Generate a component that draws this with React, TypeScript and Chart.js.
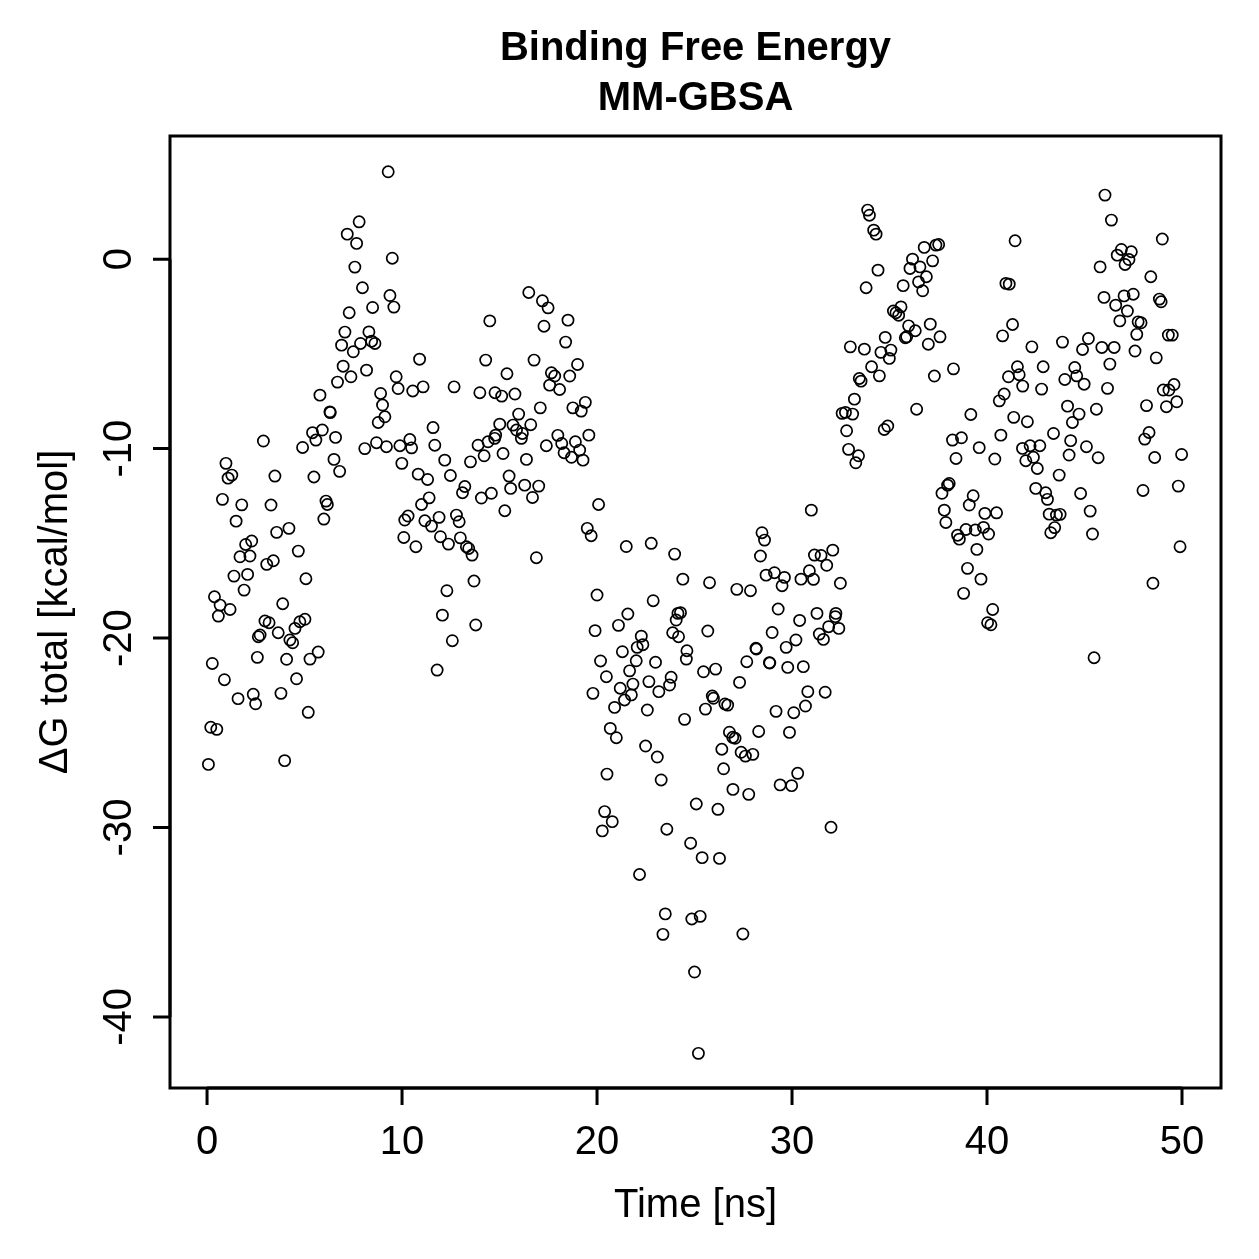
import React, { useEffect, useRef } from "react";
import { Chart, registerables } from "chart.js";

Chart.register(...registerables);

// Simulation time of each frame (ns)
const timeNs: number[] = [
  0.07, 0.19, 0.27, 0.38, 0.5, 0.58, 0.67, 0.79, 0.89, 0.97,
  1.08, 1.18, 1.27, 1.38, 1.49, 1.59, 1.69, 1.78, 1.9, 1.98,
  2.08, 2.2, 2.29, 2.37, 2.49, 2.58, 2.63, 2.72, 2.89, 2.97,
  3.06, 3.18, 3.28, 3.4, 3.48, 3.57, 3.65, 3.79, 3.88, 3.98,
  4.08, 4.2, 4.25, 4.39, 4.51, 4.59, 4.68, 4.76, 4.9, 5.02,
  5.07, 5.19, 5.28, 5.41, 5.48, 5.58, 5.7, 5.79, 5.91, 5.99,
  6.1, 6.17, 6.3, 6.32, 6.51, 6.59, 6.69, 6.8, 6.9, 6.98,
  7.07, 7.19, 7.29, 7.38, 7.5, 7.58, 7.67, 7.8, 7.87, 7.97,
  8.09, 8.18, 8.3, 8.44, 8.49, 8.61, 8.69, 8.78, 8.9, 9.0,
  9.12, 9.2, 9.29, 9.38, 9.5, 9.58, 9.7, 9.8, 9.89, 9.99,
  10.09, 10.14, 10.31, 10.4, 10.49, 10.55, 10.71, 10.83, 10.9, 11.0,
  11.08, 11.17, 11.31, 11.39, 11.51, 11.59, 11.68, 11.8, 11.9, 11.97,
  12.07, 12.19, 12.3, 12.38, 12.48, 12.58, 12.67, 12.79, 12.93, 12.99,
  13.1, 13.22, 13.3, 13.42, 13.51, 13.59, 13.69, 13.78, 13.9, 13.99,
  14.07, 14.21, 14.29, 14.41, 14.5, 14.58, 14.75, 14.77, 14.8, 15.01,
  15.11, 15.18, 15.27, 15.38, 15.49, 15.57, 15.69, 15.79, 15.87, 15.98,
  16.12, 16.17, 16.29, 16.38, 16.5, 16.6, 16.69, 16.77, 16.89, 17.01,
  17.09, 17.2, 17.28, 17.4, 17.49, 17.57, 17.66, 17.83, 17.99, 18.08,
  18.19, 18.31, 18.39, 18.51, 18.6, 18.69, 18.76, 18.89, 19.0, 19.11,
  19.19, 19.28, 19.4, 19.5, 19.58, 19.7, 19.79, 19.9, 20.0, 20.08,
  20.18, 20.27, 20.39, 20.48, 20.51, 20.68, 20.78, 20.9, 20.99, 21.1,
  21.19, 21.3, 21.41, 21.5, 21.58, 21.67, 21.76, 21.84, 22.01, 22.06,
  22.18, 22.27, 22.35, 22.49, 22.58, 22.66, 22.78, 22.88, 23.0, 23.09,
  23.17, 23.29, 23.38, 23.5, 23.58, 23.72, 23.8, 23.88, 23.98, 24.06,
  24.15, 24.18, 24.28, 24.4, 24.49, 24.58, 24.61, 24.8, 24.86, 25.0,
  25.09, 25.2, 25.29, 25.39, 25.46, 25.56, 25.68, 25.77, 25.91, 25.97,
  26.08, 26.2, 26.28, 26.4, 26.49, 26.56, 26.7, 26.79, 26.96, 26.97,
  27.08, 27.17, 27.31, 27.39, 27.48, 27.61, 27.68, 27.78, 27.87, 27.99,
  28.15, 28.17, 28.29, 28.38, 28.46, 28.59, 28.67, 28.84, 28.86, 28.98,
  29.1, 29.18, 29.29, 29.39, 29.49, 29.61, 29.7, 29.78, 29.87, 29.98,
  30.09, 30.2, 30.29, 30.39, 30.46, 30.58, 30.69, 30.81, 30.89, 30.99,
  31.1, 31.15, 31.28, 31.4, 31.49, 31.61, 31.7, 31.78, 31.88, 32.0,
  32.09, 32.22, 32.25, 32.4, 32.48, 32.57, 32.74, 32.8, 32.9, 32.99,
  33.11, 33.2, 33.27, 33.41, 33.45, 33.54, 33.71, 33.8, 33.88, 33.97,
  34.08, 34.19, 34.31, 34.41, 34.48, 34.56, 34.73, 34.78, 34.91, 34.99,
  35.07, 35.2, 35.33, 35.47, 35.59, 35.7, 35.81, 35.88, 35.98, 36.05,
  36.18, 36.32, 36.39, 36.49, 36.56, 36.7, 36.78, 36.89, 36.99, 37.09,
  37.21, 37.3, 37.38, 37.52, 37.59, 37.69, 37.81, 37.89, 37.98, 38.06,
  38.23, 38.28, 38.41, 38.49, 38.58, 38.69, 38.8, 38.92, 39.0, 39.09,
  39.17, 39.29, 39.4, 39.48, 39.6, 39.69, 39.82, 39.89, 40.03, 40.08,
  40.2, 40.29, 40.4, 40.49, 40.63, 40.71, 40.8, 40.88, 40.97, 41.1,
  41.14, 41.31, 41.37, 41.44, 41.56, 41.65, 41.82, 41.83, 41.99, 42.07,
  42.21, 42.3, 42.38, 42.5, 42.58, 42.71, 42.8, 42.88, 43.01, 43.1,
  43.19, 43.27, 43.41, 43.47, 43.56, 43.7, 43.75, 43.87, 43.99, 44.13,
  44.21, 44.29, 44.38, 44.5, 44.6, 44.72, 44.8, 44.9, 44.98, 45.1,
  45.2, 45.29, 45.41, 45.49, 45.61, 45.7, 45.8, 45.89, 46.0, 46.05,
  46.18, 46.3, 46.38, 46.52, 46.6, 46.68, 46.81, 46.89, 47.03, 47.08,
  47.2, 47.28, 47.4, 47.5, 47.59, 47.68, 47.75, 47.9, 48.0, 48.09,
  48.18, 48.31, 48.4, 48.51, 48.6, 48.68, 48.84, 48.93, 48.99, 49.04,
  49.2, 49.3, 49.33, 49.5, 49.59, 49.73, 49.81, 49.9, 49.98,
];

// Total binding free energy of each frame (kcal/mol)
const deltaGTotal: number[] = [
  -26.67, -24.71, -21.34, -17.82, -24.82, -18.84, -18.26, -12.68, -22.2, -10.78,
  -11.56, -18.49, -11.4, -16.73, -13.83, -23.2, -15.71, -12.97, -17.47, -15.06,
  -16.64, -15.67, -14.88, -22.97, -23.47, -21.02, -19.93, -19.84, -9.6, -19.1,
  -16.11, -19.19, -12.98, -15.92, -11.45, -14.42, -19.72, -22.92, -18.19, -26.47,
  -21.12, -14.21, -20.1, -20.25, -19.49, -22.15, -15.41, -19.14, -9.94, -19.01,
  -16.87, -23.92, -21.11, -9.16, -11.5, -9.55, -20.74, -7.18, -9.02, -13.72,
  -12.77, -12.95, -8.06, -8.1, -10.57, -9.41, -6.49, -11.2, -4.54, -5.65,
  -3.85, 1.32, -2.83, -6.21, -4.89, -0.42, 0.83, 1.97, -4.45, -1.51,
  -10.0, -5.86, -3.84, -4.33, -2.55, -4.45, -9.69, -8.62, -7.09, -7.7,
  -8.32, -9.9, 4.61, -1.92, 0.05, -2.53, -6.21, -6.83, -9.85, -10.78,
  -14.69, -13.77, -13.56, -9.52, -9.96, -6.96, -15.18, -11.35, -5.28, -12.95,
  -6.74, -13.81, -11.63, -12.6, -14.09, -8.89, -9.82, -21.69, -13.63, -14.65,
  -18.79, -10.61, -17.5, -15.04, -11.42, -20.14, -6.74, -13.51, -13.86, -14.71,
  -12.33, -12.0, -15.18, -15.27, -10.7, -15.62, -16.99, -19.31, -9.82, -7.05,
  -12.61, -10.38, -5.33, -9.64, -3.26, -12.36, -9.46, -7.05, -9.29, -8.71,
  -7.23, -10.26, -13.28, -6.05, -11.45, -12.1, -8.76, -7.12, -9.02, -8.18,
  -9.46, -9.2, -11.93, -10.57, -1.76, -8.74, -12.58, -5.33, -15.76, -11.98,
  -7.85, -2.2, -3.54, -9.85, -2.57, -6.65, -6.0, -6.17, -9.3, -6.88,
  -9.73, -10.22, -4.38, -3.22, -6.17, -10.46, -7.85, -9.64, -5.56, -10.08,
  -8.02, -10.61, -7.56, -14.21, -9.29, -14.6, -22.92, -19.61, -17.73, -12.95,
  -21.21, -30.18, -29.16, -22.04, -27.18, -24.77, -29.69, -23.66, -25.26, -19.33,
  -22.65, -20.72, -23.27, -15.17, -18.73, -21.73, -23.0, -22.43, -21.2, -20.49,
  -32.48, -19.9, -20.35, -25.7, -23.8, -22.3, -15.0, -18.03, -21.28, -26.28,
  -22.83, -27.49, -35.64, -34.56, -30.09, -22.48, -22.07, -19.72, -15.57, -19.05,
  -18.7, -19.93, -18.66, -16.89, -24.29, -21.11, -20.67, -30.83, -34.83, -37.63,
  -28.76, -41.92, -34.69, -31.59, -21.78, -23.75, -19.63, -17.08, -23.06, -23.18,
  -21.64, -29.04, -31.63, -25.87, -26.9, -23.48, -23.54, -24.97, -25.24, -27.99,
  -25.29, -17.43, -22.34, -26.03, -35.62, -26.23, -21.25, -28.25, -17.5, -26.14,
  -20.54, -20.58, -24.93, -15.67, -14.44, -14.83, -16.68, -21.3, -21.32, -19.71,
  -16.55, -23.87, -18.47, -27.75, -17.24, -16.8, -20.49, -21.55, -24.98, -27.79,
  -23.94, -20.1, -27.14, -19.07, -16.89, -21.51, -23.59, -22.83, -16.45, -13.25,
  -16.9, -15.62, -18.7, -19.79, -15.64, -20.07, -22.86, -16.16, -19.4, -29.99,
  -15.36, -18.87, -18.7, -19.49, -17.11, -8.14, -8.09, -9.06, -10.04, -4.63,
  -8.18, -7.39, -10.75, -10.38, -6.3, -6.44, -4.75, -1.51, 2.59, 2.32,
  -5.68, 1.53, 1.32, -0.58, -6.16, -4.92, -8.99, -4.13, -8.81, -5.24,
  -4.8, -2.74, -2.83, -2.96, -2.52, -1.4, -4.15, -4.1, -3.52, -0.49,
  0.0, -3.78, -7.92, -1.2, -0.41, -1.67, 0.62, -0.93, -4.49, -3.43,
  -0.09, -6.17, 0.74, 0.77, -4.1, -12.36, -13.25, -13.9, -11.93, -11.84,
  -9.55, -5.79, -10.52, -14.57, -14.78, -9.43, -17.64, -14.27, -16.32, -12.98,
  -8.2, -12.49, -14.3, -15.32, -9.95, -16.89, -14.16, -13.42, -19.19, -14.51,
  -19.3, -18.49, -10.55, -13.39, -7.48, -9.29, -4.05, -7.12, -1.28, -6.21,
  -1.32, -3.45, -8.35, 0.97, -5.68, -6.1, -9.99, -6.7, -10.64, -8.58,
  -9.85, -4.63, -10.46, -12.1, -11.05, -9.85, -6.86, -5.68, -12.33, -12.68,
  -13.46, -14.44, -9.2, -14.17, -13.51, -11.4, -13.47, -4.38, -6.35, -7.76,
  -10.34, -9.58, -8.62, -5.72, -6.16, -8.18, -12.37, -4.77, -6.6, -9.9,
  -4.19, -13.3, -14.51, -21.04, -7.92, -10.48, -0.41, -4.66, -2.02, 3.38,
  -6.82, -5.54, 2.06, -4.66, -2.43, 0.21, -3.26, 0.51, -1.94, -0.28,
  -2.74, -0.02, 0.39, -1.85, -4.85, -3.97, -3.31, -3.36, -12.21, -9.5,
  -7.73, -9.15, -0.93, -17.11, -10.47, -5.21, -2.11, -2.25, 1.06, -6.91,
  -7.79, -4.01, -6.91, -4.01, -6.62, -7.53, -11.98, -15.18, -10.31,
];

const xTicks: number[] = [0, 10, 20, 30, 40, 50];
const yTicks: number[] = [0, -10, -20, -30, -40];

const titleLines: string[] = ["Binding Free Energy", "MM-GBSA"];
const xTitle = "Time [ns]";
const yTitle = "\u0394G total [kcal/mol]";

const FONT = '"Liberation Sans", Arial, Helvetica, sans-serif';
const SIZE = 1259;

// Box, axes, tick labels and titles drawn in base-graphics style
const framePlugin = {
  id: "frame",
  afterDraw(chart: any) {
    const { ctx, chartArea: a, scales } = chart;
    const xs = scales.x;
    const ys = scales.y;
    const tick = 17;
    ctx.save();
    ctx.strokeStyle = "#000";
    ctx.fillStyle = "#000";
    ctx.lineWidth = 3;
    ctx.lineCap = "butt";
    ctx.lineJoin = "miter";
    ctx.strokeRect(a.left, a.top, a.right - a.left, a.bottom - a.top);

    // x axis
    ctx.beginPath();
    const x0 = xs.getPixelForValue(xTicks[0]);
    const x1 = xs.getPixelForValue(xTicks[xTicks.length - 1]);
    ctx.moveTo(x0, a.bottom);
    ctx.lineTo(x1, a.bottom);
    xTicks.forEach((v) => {
      const px = xs.getPixelForValue(v);
      ctx.moveTo(px, a.bottom);
      ctx.lineTo(px, a.bottom + tick);
    });
    ctx.stroke();
    ctx.font = `40px ${FONT}`;
    ctx.textAlign = "center";
    ctx.textBaseline = "alphabetic";
    xTicks.forEach((v) => {
      ctx.fillText(String(v), xs.getPixelForValue(v), 1154);
    });

    // y axis
    ctx.beginPath();
    const y0 = ys.getPixelForValue(yTicks[0]);
    const y1 = ys.getPixelForValue(yTicks[yTicks.length - 1]);
    ctx.moveTo(a.left, y0);
    ctx.lineTo(a.left, y1);
    yTicks.forEach((v) => {
      const py = ys.getPixelForValue(v);
      ctx.moveTo(a.left, py);
      ctx.lineTo(a.left - tick, py);
    });
    ctx.stroke();
    yTicks.forEach((v) => {
      ctx.save();
      ctx.translate(131, ys.getPixelForValue(v));
      ctx.rotate(-Math.PI / 2);
      ctx.fillText(String(v), 0, 0);
      ctx.restore();
    });

    // axis titles
    ctx.fillText(xTitle, (a.left + a.right) / 2, 1217);
    ctx.save();
    ctx.translate(67, (a.top + a.bottom) / 2);
    ctx.rotate(-Math.PI / 2);
    ctx.fillText(yTitle, 0, 0);
    ctx.restore();

    // main title
    ctx.font = `bold 40px ${FONT}`;
    ctx.fillText(titleLines[0], (a.left + a.right) / 2, 60);
    ctx.fillText(titleLines[1], (a.left + a.right) / 2, 110);
    ctx.restore();
  },
};

export default function App() {
  const canvasRef = useRef<HTMLCanvasElement | null>(null);

  useEffect(() => {
    document.body.style.margin = "0";
    document.body.style.background = "#fff";
    const canvas = canvasRef.current;
    if (!canvas) return;
    const points = timeNs.map((t, i) => ({ x: t, y: deltaGTotal[i] }));
    const chart = new Chart(canvas, {
      type: "scatter",
      data: {
        datasets: [
          {
            data: points,
            pointStyle: "circle",
            pointRadius: 5.6,
            pointHoverRadius: 5.6,
            borderWidth: 1.7,
            borderColor: "#000",
            backgroundColor: "rgba(0,0,0,0)",
          },
        ],
      },
      options: {
        animation: false,
        responsive: false,
        devicePixelRatio: 1,
        events: [],
        layout: { padding: { left: 170, top: 136, right: 38, bottom: 171 } },
        plugins: {
          legend: { display: false },
          tooltip: { enabled: false },
          title: { display: false },
        },
        scales: {
          x: { type: "linear", min: -1.9, max: 52.0, display: false },
          y: { type: "linear", min: -43.75, max: 6.5, display: false },
        },
      },
      plugins: [framePlugin],
    });
    return () => chart.destroy();
  }, []);

  return (
    <div style={{ width: SIZE, height: SIZE, background: "#fff" }}>
      <canvas ref={canvasRef} width={SIZE} height={SIZE} style={{ display: "block", width: SIZE, height: SIZE }} />
    </div>
  );
}
